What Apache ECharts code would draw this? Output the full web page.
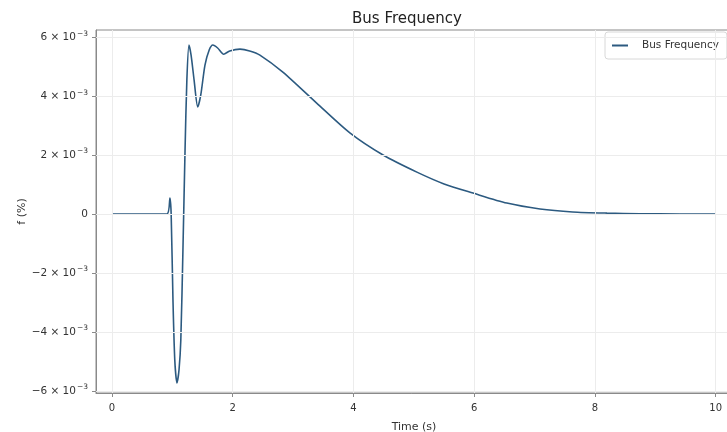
<!DOCTYPE html>
<html>
<head>
<meta charset="utf-8">
<script src="https://cdn.jsdelivr.net/npm/echarts@6/dist/echarts.min.js"></script>
<style>
  html, body { margin: 0; padding: 0; background: #fff; }
  #chart { width: 727px; height: 432px; }
</style>
</head>
<body>
<div id="chart"></div>
<script>
  // time axis (s)
  const timeS = [0, 0.5, 0.91, 0.96, 0.98, 1.01, 1.04, 1.076, 1.11, 1.14, 1.175, 1.21, 1.24, 1.275,
    1.31, 1.36, 1.42, 1.47, 1.54, 1.61, 1.67, 1.75, 1.85, 1.95, 2.12, 2.28, 2.45, 2.83, 3.39,
    3.94, 4.49, 5.05, 5.5, 5.98, 6.54, 7.09, 7.63, 8.2, 8.74, 9.4, 10]
  // bus frequency deviation, in units of 10^-3 %
  const freqMilli = [0, 0, 0, 0.54, 0, -2.92, -4.95, -5.73, -5.29, -4.27, -1.22, 2.17, 4.54, 5.73,
    5.39, 4.54, 3.63, 4.03, 5.05, 5.56, 5.73, 5.63, 5.42, 5.53, 5.59, 5.53, 5.39, 4.81, 3.76,
    2.75, 2.0, 1.42, 1.02, 0.71, 0.37, 0.17, 0.07, 0.03, 0.01, 0, 0]
  // tick labels
  const xTicks = [0, 2, 4, 6, 8, 10]
  const yTicks = [-0.006, -0.004, -0.002, 0, 0.002, 0.004, 0.006]

  const X_MIN = -0.265, X_MAX = 10.27
  const Y_MIN = -0.00607, Y_MAX = 0.00624

  const chart = echarts.init(document.getElementById('chart'))
  const font = 'DejaVu Sans'

  function yLabel(v) {
    const k = Math.round(v * 1000)
    if (k === 0) return '{b|0}'
    return '{b|' + (k < 0 ? '\u2212' : '') + Math.abs(k) + ' \u00d7 10}{s|\u2212' + '3}'
  }

  const lineData = timeS.map((t, i) => [t, freqMilli[i] * 1e-3])

  // light grid lines at the tick positions
  const gridLines = []
  xTicks.forEach(x => gridLines.push([{ coord: [x, Y_MIN] }, { coord: [x, Y_MAX] }]))
  yTicks.forEach(y => gridLines.push([{ coord: [X_MIN, y] }, { coord: [X_MAX, y] }]))

  let option = {
    animation: false,
    textStyle: { fontFamily: font },
    title: {
      text: 'Bus Frequency',
      left: 402,
      textAlign: 'center',
      top: 7,
      textStyle: { fontFamily: font, fontSize: 15, fontWeight: 'normal', color: '#222' }
    },
    legend: {
      data: ['Bus Frequency'],
      icon: 'rect',
      left: 605,
      top: 32,
      padding: [8, 8, 8, 7],
      itemWidth: 16,
      itemHeight: 2,
      borderColor: '#d8d8d8',
      borderWidth: 1,
      borderRadius: 3,
      textStyle: { fontFamily: font, fontSize: 10.5, color: '#333', padding: [0, 0, 0, 9] }
    },
    grid: {
      left: 96,
      top: 30,
      right: -5,
      bottom: 39,
      outerBoundsMode: 'none',
      show: true,
      borderColor: '#8a8a8a',
      borderWidth: 1
    },
    xAxis: {
      type: 'value',
      min: X_MIN,
      max: X_MAX,
      name: 'Time (s)',
      nameLocation: 'middle',
      nameGap: 29,
      nameTextStyle: { fontFamily: font, fontSize: 11, color: '#333' },
      axisLine: { show: true, onZero: false, lineStyle: { color: '#8a8a8a' } },
      axisTick: { show: true, customValues: xTicks, length: 4, lineStyle: { color: '#8a8a8a' } },
      axisLabel: { customValues: xTicks, fontFamily: font, fontSize: 10, color: '#333', margin: 10 },
      splitLine: { show: false }
    },
    yAxis: {
      type: 'value',
      min: Y_MIN,
      max: Y_MAX,
      name: 'f (%)',
      nameLocation: 'middle',
      nameRotate: 90,
      nameGap: 68,
      nameMoveOverlap: false,
      nameTextStyle: { fontFamily: font, fontSize: 11, color: '#333' },
      axisLine: { show: true, onZero: false, lineStyle: { color: '#8a8a8a' } },
      axisTick: { show: true, customValues: yTicks, length: 4, lineStyle: { color: '#8a8a8a' } },
      axisLabel: {
        customValues: yTicks,
        formatter: yLabel,
        margin: 8,
        rich: {
          b: { fontFamily: font, fontSize: 10.5, color: '#333' },
          s: { fontFamily: font, fontSize: 7.5, color: '#333', padding: [0, 0, 7, 1] }
        }
      },
      splitLine: { show: false }
    },
    series: [
      {
        name: 'grid',
        type: 'line',
        data: [],
        silent: true,
        z: 1,
        markLine: {
          silent: true,
          symbol: ['none', 'none'],
          label: { show: false },
          lineStyle: { color: '#ececec', width: 1, type: 'solid' },
          data: gridLines
        }
      },
      {
        name: 'Bus Frequency',
        type: 'line',
        data: lineData,
        symbol: 'none',
        smooth: 0.25,
        z: 3,
        lineStyle: { color: '#2c5a80', width: 1.6 },
        itemStyle: { color: '#2c5a80' }
      }
    ]
  }

  chart.setOption(option)
</script>
</body>
</html>
